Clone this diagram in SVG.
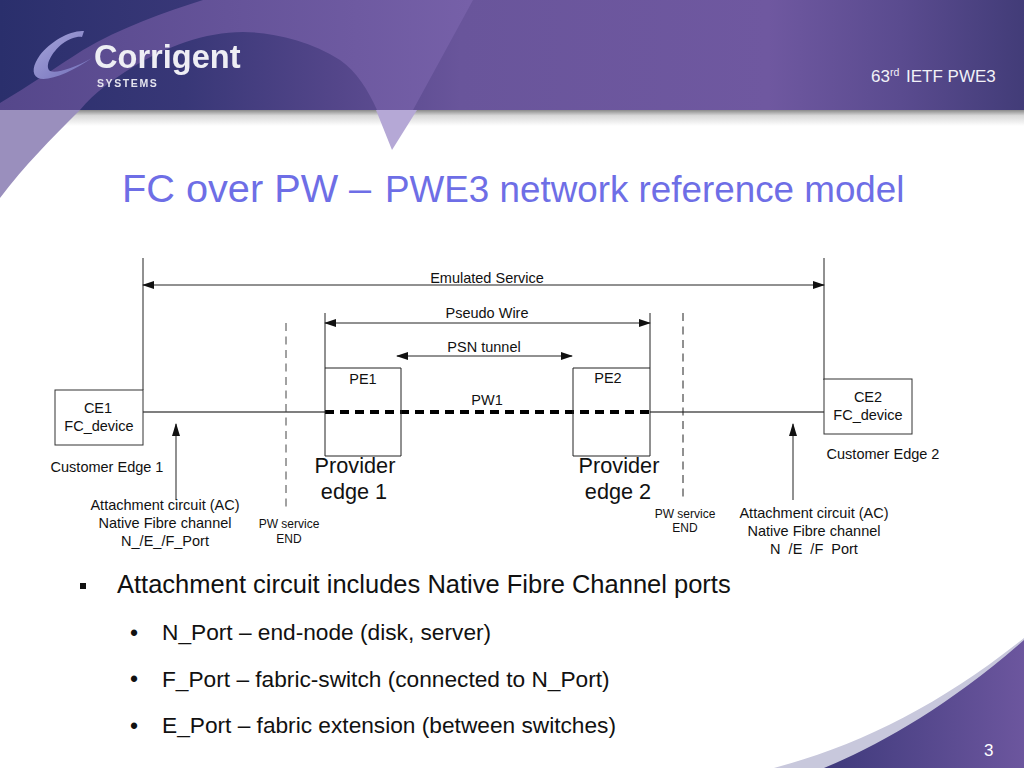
<svg xmlns="http://www.w3.org/2000/svg" width="1024" height="768" viewBox="0 0 1024 768">
<style>
text{font-family:"Liberation Sans",Arial,sans-serif;fill:#111;white-space:pre}
.s{font-size:14.5px}
.xs{font-size:12px}
.m{text-anchor:middle}
.b{font-size:25.5px}
.c{font-size:22.7px}
.d{font-size:23px}
.p{font-size:21.7px;text-anchor:middle}
.box{fill:#fff;stroke:#333;stroke-width:1}
.ln{fill:none;stroke:#222;stroke-width:1}
.g{fill:none;stroke:#555;stroke-width:1.3}
.dash{fill:none;stroke:#444;stroke-width:1;stroke-dasharray:8 5.5}
</style>
<defs>
<linearGradient id="band" gradientUnits="userSpaceOnUse" x1="0" x2="1024" y1="0" y2="0">
<stop offset="0" stop-color="#2a2f6c"/><stop offset=".18" stop-color="#383777"/><stop offset=".33" stop-color="#54468a"/><stop offset=".45" stop-color="#69559b"/><stop offset=".75" stop-color="#6f58a0"/><stop offset=".88" stop-color="#5a4b8f"/><stop offset="1" stop-color="#423c78"/>
</linearGradient>
<linearGradient id="sw" gradientUnits="userSpaceOnUse" x1="0" x2="470" y1="0" y2="0"><stop offset="0" stop-color="#55478b"/><stop offset="1" stop-color="#7660a8"/></linearGradient>
<linearGradient id="foot" gradientUnits="userSpaceOnUse" x1="824" x2="1024" y1="0" y2="0"><stop offset="0" stop-color="#3f3a7c"/><stop offset="1" stop-color="#6c569e"/></linearGradient>
<linearGradient id="shade" x1="0" x2="0" y1="0" y2="1"><stop offset="0" stop-color="#8a8a8a"/><stop offset=".35" stop-color="#d8d8d8"/><stop offset="1" stop-color="#fff"/></linearGradient>
<linearGradient id="logoC" x1="0" x2="1" y1="0" y2="1"><stop offset="0" stop-color="#a9a8dc"/><stop offset="1" stop-color="#6f6cb8"/></linearGradient>
<marker id="a" markerWidth="12" markerHeight="8" refX="11" refY="4" orient="auto-start-reverse" markerUnits="userSpaceOnUse"><path d="M0 0L12 4L0 8Z" fill="#111"/></marker>
<marker id="up" markerWidth="8" markerHeight="13" refX="4" refY="1" orient="0" markerUnits="userSpaceOnUse"><path d="M4 0L8 13H0Z" fill="#111"/></marker>
<filter id="soft" x="-5%" y="-20%" width="110%" height="140%"><feGaussianBlur stdDeviation=".35"/></filter>
</defs>
<g id="header">
<rect width="1024" height="110" fill="url(#band)"/>
<rect y="110" width="1024" height="16" fill="url(#shade)"/>
<path d="M0 110H80C50 140 25 165 0 198Z" fill="#9a8fbd"/>
<path d="M376 110H417L392 150Z" fill="#b5a8d6"/>
<path d="M0 103C30 85 55 68 83 50C120 28 165 12 203 0H473L413 110H0Z" fill="url(#sw)"/>
<path d="M80 110C95 92 112 80 133 67C165 47 205 32 243 32C270 32 310 40 340 60C357 72 368 90 377 110Z" fill="url(#band)"/>
<path d="M84 31C70 30 50 42 40 55C33 65 31 74 38 78C48 82 72 72 92 58C74 68 56 74 50 71C44 66 52 52 62 44C70 38 78 36 82 37Z" fill="url(#logoC)"/>
<text x="94" y="68" font-size="32.6" font-weight="bold" filter="url(#soft)" style="fill:#eeeef4">Corrigent</text>
<text x="97" y="87" font-size="10.5" font-weight="bold" letter-spacing="1.6" filter="url(#soft)" style="fill:#e4e4ee">SYSTEMS</text>
<text x="871" y="82" font-size="17" style="fill:#f2f2f8">63<tspan font-size="10.5" dy="-6">rd</tspan><tspan dy="6" x="906">IETF PWE3</tspan></text>
</g>
<g id="footer">
<path d="M774 768C860 745 940 705 1024 638V768Z" fill="#c8c8dc"/>
<path d="M824 768C880 745 950 705 1024 640V768Z" fill="url(#foot)"/>
<text x="984" y="756" font-size="17" style="fill:#fff">3</text>
</g>
<text id="title" y="202" style="fill:#6e6ee6"><tspan x="122" font-size="39.7">FC over PW –</tspan><tspan x="385" font-size="36.8">PWE3 network reference model</tspan></text>
<g id="connectors">
<path class="ln" d="M143 258V390M824 258V380"/>
<path class="g" d="M143 412H325M650 412H824"/>
<path class="ln" d="M143 285H824" marker-start="url(#a)" marker-end="url(#a)"/>
<path class="ln" d="M325 323H650" marker-start="url(#a)" marker-end="url(#a)"/>
<path class="ln" d="M397 356H572" marker-start="url(#a)" marker-end="url(#a)"/>
<path class="ln" d="M325 313V368M650 313V368"/>
<path class="dash" d="M286 323V512"/>
<path class="dash" style="stroke:#222" d="M683 313V500"/>
<path d="M325 412H650" fill="none" stroke="#000" stroke-width="4" stroke-dasharray="9 6"/>
<path class="g" d="M176 424V500" marker-start="url(#up)"/>
<path class="ln" d="M793 424V500" marker-start="url(#up)"/>
</g>
<g id="ce1"><rect class="box" x="55" y="390" width="88" height="55"/><text class="s m" x="98" y="413">CE1</text><text class="s m" x="99" y="431">FC_device</text></g>
<g id="ce2"><rect class="box" x="824" y="379" width="88" height="55"/><text class="s m" x="868" y="402">CE2</text><text class="s m" x="868" y="420">FC_device</text></g>
<g id="pe1"><path class="ln" d="M325 368H401V456H325Z"/><text class="s m" x="363" y="384">PE1</text></g>
<g id="pe2"><path class="ln" d="M573 368H650V456H573Z"/><text class="s m" x="608" y="383">PE2</text></g>
<g id="labels">
<text class="s m" x="487" y="283">Emulated Service</text>
<text class="s m" x="487" y="318">Pseudo Wire</text>
<text class="s m" x="484" y="352">PSN tunnel</text>
<text class="s m" x="487" y="405">PW1</text>
<text class="s m" x="107" y="472">Customer Edge 1</text>
<text class="s m" x="883" y="459">Customer Edge 2</text>
<text class="s m" x="165" y="510">Attachment circuit (AC)</text>
<text class="s m" x="165" y="528">Native Fibre channel</text>
<text class="s m" x="165" y="546">N_/E_/F_Port</text>
<text class="s m" x="814" y="518">Attachment circuit (AC)</text>
<text class="s m" x="814" y="536">Native Fibre channel</text>
<text class="s m" x="814" y="554">N  /E  /F  Port</text>
<text class="xs m" x="289" y="528">PW service</text>
<text class="xs m" x="289" y="543">END</text>
<text class="xs m" x="685" y="518">PW service</text>
<text class="xs m" x="685" y="532">END</text>
<text class="p" x="355" y="473">Provider</text>
<text class="p" x="354" y="499">edge 1</text>
<text class="p" x="619" y="473">Provider</text>
<text class="p" x="618" y="499">edge 2</text>
</g>
<g id="bullets">
<rect x="80" y="583" width="6" height="6" fill="#111"/>
<text class="b" x="117" y="593">Attachment circuit includes Native Fibre Channel ports</text>
<text class="d" x="130" y="641">•</text>
<text class="c" x="162" y="640">N_Port – end-node (disk, server)</text>
<text class="d" x="130" y="687">•</text>
<text class="c" x="162" y="687">F_Port – fabric-switch (connected to N_Port)</text>
<text class="d" x="130" y="734">•</text>
<text class="c" x="162" y="733">E_Port – fabric extension (between switches)</text>
</g>
</svg>
